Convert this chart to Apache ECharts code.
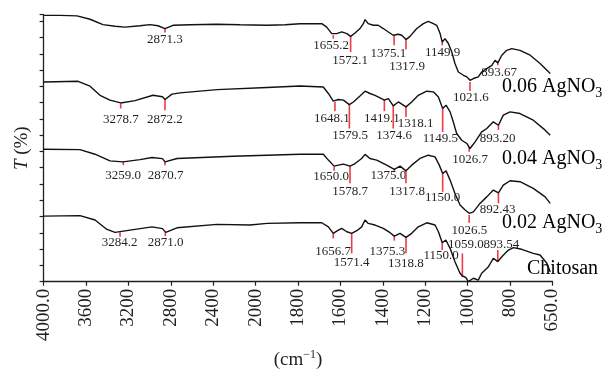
<!DOCTYPE html>
<html>
<head>
<meta charset="utf-8">
<script src="https://cdn.jsdelivr.net/npm/echarts@6.0.0/dist/echarts.min.js"></script>
<style>
  html, body { margin: 0; padding: 0; background: #fff; }
  #chart { width: 607px; height: 377px; }
</style>
</head>
<body>
<div id="chart"></div>
<script>
// x axis is broken: equal spacing per tick, but the step changes at 2000 and 800 cm-1
const tickLabels = ['4000.0', '3600', '3200', '2800', '2400', '2000', '1800', '1600', '1400', '1200', '1000', '800', '650.0'];
const tickWavenumbers = [4000, 3600, 3200, 2800, 2400, 2000, 1800, 1600, 1400, 1200, 1000, 800, 650];

const sampleNames = ['0.06 AgNO3', '0.04 AgNO3', '0.02 AgNO3', 'Chitosan'];

// [wavenumber, T] (T in tick units, offset stacked)
const spec006 = [
  [4000, 16.36], [3845, 16.36], [3685, 16.33], [3562, 16.12], [3440, 15.79], [3326, 15.69],
  [3232, 15.64], [3091, 15.72], [2996, 15.79], [2921, 15.72], [2855, 15.55], [2779, 15.75],
  [2619, 15.78], [2364, 15.81], [2147, 15.78], [1946, 15.75], [1861, 15.78], [1791, 15.84],
  [1688, 15.85], [1665, 15.64], [1641, 15.24], [1634, 15.14], [1618, 15.24], [1594, 15.34],
  [1570, 15.24], [1552, 15.07], [1531, 15.28], [1508, 15.55], [1492, 15.85], [1484, 16.1],
  [1469, 15.85], [1445, 15.75], [1422, 15.75], [1398, 15.55], [1374, 15.34], [1351, 15.14],
  [1327, 15.2], [1311, 15.14], [1291, 14.87], [1272, 15.07], [1240, 15.55], [1209, 15.85],
  [1186, 15.99], [1162, 15.85], [1146, 15.75], [1130, 15.24], [1120, 14.72], [1107, 14.93],
  [1091, 14.63], [1075, 14.11], [1060, 13.4], [1044, 12.88], [1020, 12.68], [1004, 12.58],
  [989, 12.37], [973, 12.48], [950, 12.58], [934, 12.88], [910, 13.09], [886, 13.29],
  [871, 13.6], [858, 13.44], [839, 13.91], [816, 14.21], [794, 14.32], [765, 14.21],
  [729, 13.91], [694, 13.4], [658, 12.79]
];
const spec004 = [
  [4000, 12.27], [3675, 12.31], [3562, 12.01], [3468, 11.45], [3374, 11.15], [3273, 10.98],
  [3138, 11.12], [2968, 11.45], [2879, 11.36], [2855, 11.19], [2789, 11.52], [2713, 11.6],
  [2364, 11.8], [1946, 11.93], [1791, 12.02], [1681, 11.96], [1657, 11.56], [1634, 11.09],
  [1610, 11.19], [1586, 11.15], [1558, 10.88], [1539, 11.04], [1508, 11.41], [1484, 11.7],
  [1461, 11.56], [1437, 11.45], [1413, 11.29], [1393, 11.15], [1374, 11.25], [1351, 10.8],
  [1327, 11.04], [1291, 10.74], [1264, 11.04], [1233, 11.45], [1193, 11.7], [1162, 11.66],
  [1138, 11.35], [1118, 10.64], [1102, 10.84], [1083, 10.43], [1068, 9.82], [1052, 9.1],
  [1028, 8.69], [1004, 8.49], [989, 8.18], [965, 8.59], [934, 9.2], [910, 9.41],
  [879, 9.82], [855, 9.61], [832, 10.23], [800, 10.43], [765, 10.33], [718, 9.92],
  [676, 9.31], [658, 9.0]
];
const spec002 = [
  [4000, 8.14], [3657, 8.11], [3515, 7.83], [3374, 7.42], [3251, 7.36], [3091, 7.5],
  [2977, 7.63], [2879, 7.56], [2855, 7.36], [2742, 7.57], [2213, 7.71], [1791, 7.83],
  [1681, 7.83], [1657, 7.47], [1630, 7.1], [1610, 7.16], [1586, 7.22], [1555, 7.1],
  [1531, 7.26], [1500, 7.57], [1484, 7.82], [1461, 7.57], [1429, 7.47], [1382, 7.16],
  [1346, 6.9], [1319, 7.1], [1291, 6.81], [1264, 7.16], [1225, 7.57], [1186, 7.77],
  [1154, 7.67], [1134, 7.16], [1118, 6.65], [1102, 6.81], [1083, 6.24], [1060, 5.42],
  [1036, 4.71], [1012, 4.4], [993, 4.2], [973, 4.29], [942, 4.81], [910, 5.21],
  [879, 5.63], [855, 5.46], [832, 5.93], [800, 6.2], [765, 6.14], [718, 5.73],
  [676, 5.21], [658, 4.81]
];
const chitosan = [
  [4000, 4.03], [3657, 4.06], [3515, 3.79], [3402, 3.21], [3326, 3.03], [3185, 3.17],
  [2977, 3.37], [2879, 3.26], [2848, 3.03], [2742, 3.31], [2364, 3.52], [2053, 3.48],
  [1946, 3.58], [1791, 3.62], [1688, 3.62], [1657, 3.37], [1634, 2.97], [1610, 3.17],
  [1594, 3.28], [1570, 3.07], [1547, 2.97], [1523, 3.13], [1500, 3.37], [1484, 3.79],
  [1469, 3.58], [1437, 3.48], [1398, 3.28], [1366, 3.01], [1346, 2.8], [1319, 2.97],
  [1291, 2.72], [1264, 2.97], [1233, 3.37], [1193, 3.62], [1154, 3.48], [1138, 3.07],
  [1120, 2.39], [1103, 2.56], [1083, 2.05], [1060, 1.23], [1036, 0.52], [1025, 0.35],
  [1009, 0.27], [997, 0.01], [973, 0.21], [950, 0.1], [934, 0.52], [902, 0.92],
  [879, 1.44], [858, 1.23], [839, 1.53], [808, 1.94], [788, 2.09], [759, 1.99],
  [718, 1.74], [694, 1.64], [670, 1.13], [658, 0.6]
];

// peak marks: [label, wavenumber of mark, T top, T bottom, label wavenumber, label T]
const peaks = [
  ['2871.3', 2855, 15.55, 15.3, 2855, 14.89],
  ['1655.2', 1634, 15.14, 14.93, 1644, 14.52],
  ['1572.1', 1552, 15.07, 14.11, 1555, 13.58],
  ['1375.1', 1347, 15.1, 14.52, 1374, 14.03],
  ['1317.9', 1291, 14.87, 14.26, 1286, 13.19],
  ['1149.9', 1120, 14.72, 14.52, 1118, 14.06],
  ['1021.6', 989, 12.27, 11.72, 985, 11.3],
  ['893.67', 858, 13.56, 13.29, 852, 12.83],

  ['3278.7', 3273, 10.94, 10.64, 3270, 9.98],
  ['2872.2', 2855, 11.19, 10.53, 2855, 9.98],
  ['1648.1', 1626, 11.04, 10.47, 1641, 10.02],
  ['1579.5', 1558, 10.88, 9.41, 1555, 9.0],
  ['1419.1', 1393, 11.15, 10.47, 1405, 10.02],
  ['1374.6', 1351, 10.8, 9.41, 1347, 9.0],
  ['1318.1', 1291, 10.74, 10.12, 1246, 9.71],
  ['1149.5', 1118, 10.64, 9.2, 1129, 8.78],
  ['1026.7', 993, 8.28, 7.98, 989, 7.53],
  ['893.20', 855, 9.61, 9.31, 859, 8.8],

  ['3259.0', 3248, 7.36, 7.16, 3251, 6.5],
  ['2870.7', 2855, 7.36, 7.16, 2850, 6.5],
  ['1650.0', 1630, 7.06, 6.81, 1644, 6.48],
  ['1578.7', 1555, 7.1, 6.04, 1555, 5.56],
  ['1375.0', 1346, 6.9, 6.73, 1374, 6.5],
  ['1317.8', 1291, 6.81, 6.04, 1286, 5.52],
  ['1150.0', 1118, 6.65, 5.52, 1118, 5.17],
  ['1026.5', 993, 4.09, 3.62, 992, 3.11],
  ['892.43', 855, 5.46, 4.81, 859, 4.46],

  ['3284.2', 3279, 3.03, 2.76, 3282, 2.4],
  ['2871.0', 2852, 3.03, 2.8, 2850, 2.4],
  ['1656.7', 1634, 2.97, 2.66, 1635, 1.88],
  ['1571.4', 1547, 2.97, 1.74, 1547, 1.15],
  ['1375.3', 1346, 2.8, 2.52, 1379, 1.88],
  ['1318.8', 1291, 2.72, 1.74, 1291, 1.13],
  ['1150.0', 1120, 2.39, 1.94, 1125, 1.61],
  ['1059.0', 1025, 1.74, 0.31, 1008, 2.31],
  ['893.54', 858, 1.94, 1.23, 841, 2.31]
];

const SERIF = '"Liberation Serif", "DejaVu Serif", serif';

// wavenumber -> position on the broken axis (tick index units)
const toAxis = w => {
  for (let i = 0; i < tickWavenumbers.length - 1; i++) {
    const a = tickWavenumbers[i];
    const b = tickWavenumbers[i + 1];
    if (w <= a && w >= b) {
      return i + (a - w) / (a - b);
    }
  }
  return w > tickWavenumbers[0] ? 0 : tickWavenumbers.length - 1;
};

const toPoints = spec => spec.map(([w, t]) => [toAxis(w), t]);

const spectrumSeries = [spec006, spec004, spec002, chitosan].map((spec, i) => ({
  name: sampleNames[i],
  type: 'line',
  data: toPoints(spec),
  showSymbol: false,
  lineStyle: { color: '#111', width: 1.4 },
  silent: true,
  z: 3,
}));

const peakSeries = {
  type: 'custom',
  silent: true,
  z: 2,
  data: peaks.map(p => [toAxis(p[1]), p[2], p[3], toAxis(p[4]), p[5]]),
  encode: { x: [0, 3], y: [1, 2, 4] },
  renderItem: (params, api) => {
    const top = api.coord([api.value(0), api.value(1)]);
    const bottom = api.coord([api.value(0), api.value(2)]);
    const lab = api.coord([api.value(3), api.value(4)]);
    return {
      type: 'group',
      children: [
        {
          type: 'line',
          shape: { x1: top[0], y1: top[1], x2: bottom[0], y2: bottom[1] },
          style: { stroke: '#ec3c45', lineWidth: 1.6 },
        },
        {
          type: 'text',
          x: lab[0],
          y: lab[1],
          style: {
            text: peaks[params.dataIndex][0],
            font: '13px ' + SERIF,
            fill: '#231f20',
            align: 'center',
            verticalAlign: 'middle',
          },
        },
      ],
    };
  },
};

const nameRich = {
  a: { fontFamily: SERIF, fontSize: 20, color: '#231f20' },
  sub: { fontFamily: SERIF, fontSize: 14, color: '#231f20', padding: [12, 0, 0, 0] },
};
const sampleText = name => name.endsWith('3') ? `{a|${name.slice(0, -1)}}{sub|3}` : `{a|${name}}`;
const sampleLabelPos = [[502, 89], [502, 161], [502, 225], [527, 271]];

const chart = echarts.init(document.getElementById('chart'));
chart.setOption({
  animation: false,
  grid: { left: 43.6, right: 54.5, top: 14.7, bottom: 95.3, containLabel: false, outerBoundsMode: 'none' },
  xAxis: {
    type: 'value',
    min: 0,
    max: tickLabels.length - 1,
    interval: 1,
    name: '(cm{sup|−1})',
    nameLocation: 'middle',
    nameGap: 64,
    nameTextStyle: {
      fontFamily: SERIF,
      fontSize: 19,
      color: '#231f20',
      rich: { sup: { fontFamily: SERIF, fontSize: 12, color: '#231f20', padding: [0, 0, 10, 0] } },
    },
    axisLine: { lineStyle: { color: '#231f20', width: 1.3 } },
    axisTick: { inside: false, length: 4, lineStyle: { color: '#231f20', width: 1.2 } },
    axisLabel: {
      rotate: 90,
      margin: 7,
      fontFamily: SERIF,
      fontSize: 19,
      color: '#231f20',
      formatter: v => tickLabels[Math.round(v)],
    },
    splitLine: { show: false },
  },
  yAxis: {
    type: 'value',
    min: 0,
    max: 16.4,
    interval: 1,
    name: '{it|T} (%)',
    nameLocation: 'middle',
    nameGap: 12,
    nameTextStyle: {
      fontFamily: SERIF,
      fontSize: 19,
      color: '#231f20',
      rich: { it: { fontFamily: SERIF, fontSize: 19, fontStyle: 'italic', color: '#231f20' } },
    },
    axisLine: { show: true, lineStyle: { color: '#231f20', width: 1.3 } },
    axisTick: { show: true, inside: false, length: 4, lineStyle: { color: '#231f20', width: 1.2 } },
    axisLabel: { show: false },
    splitLine: { show: false },
  },
  graphic: sampleNames.map((name, i) => ({
    type: 'text',
    left: sampleLabelPos[i][0],
    top: sampleLabelPos[i][1] - 12,
    style: { text: sampleText(name), rich: nameRich },
  })),
  series: [...spectrumSeries, peakSeries],
});
</script>
</body>
</html>
